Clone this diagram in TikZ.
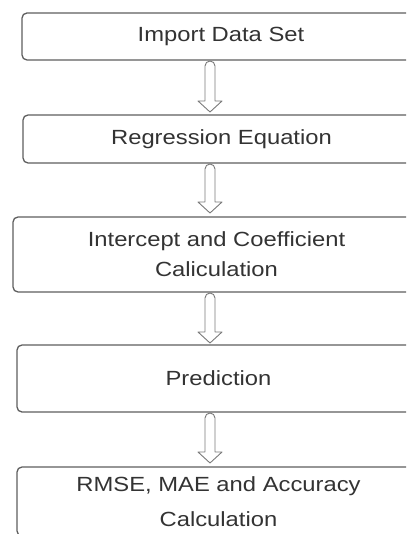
\documentclass[tikz,border=0pt]{standalone}
\usepackage{fontspec}
\setmainfont{Liberation Sans}[FakeStretch=1.16]
\usetikzlibrary{calc}
\definecolor{boxline}{HTML}{5E5E5E}
\definecolor{txt}{HTML}{333333}
\definecolor{arrline}{HTML}{7A7A7A}
\tikzset{
  stepbox/.style={draw=boxline, line width=1.3pt, rounded corners=5pt, fill=white,
    text=txt, align=center, inner sep=0pt,
    font=\fontsize{20.5}{30}\selectfont},
  harrow/.style={draw=arrline, line width=0.9pt, fill=white, line join=round},
}
\newcommand\hollowarrow[2]{%
  \draw[harrow] let \p1=(#1), \p2=(#2) in
    (\x1+5,\y2+11) -- (\x1+5,\y1-6) arc[start angle=0,end angle=180,radius=5]
    -- (\x1-5,\y2+11) -- (\x1-12,\y2+11) -- (\x1,\y2) -- (\x1+12,\y2+11) -- cycle;}
\begin{document}
\begin{tikzpicture}[x=1pt,y=1pt]
\useasboundingbox (0,0) rectangle (406,-534);
\clip (0,0) rectangle (406,-534);
\fill[white] (0,0) rectangle (406,-534);
\node[stepbox, minimum width=398pt, minimum height=47pt] (b1) at (221,-36.5) {Import Data Set};
\node[stepbox, minimum width=397pt, minimum height=48pt] (b2) at (221.5,-139) {Regression Equation};
\node[stepbox, minimum width=407pt, minimum height=75pt] (b3) at (216.5,-254.5) {Intercept and Coefficient\\Caliculation};
\node[stepbox, minimum width=403pt, minimum height=67pt] (b4) at (218.5,-378.5) {Prediction};
\node[stepbox, minimum width=403pt, minimum height=69pt, font=\fontsize{20.5}{35}\selectfont] (b5) at (218.5,-501.5) {RMSE, MAE and Accuracy\\Calculation};
\coordinate (s1) at (210,-60);  \coordinate (e1) at (210,-112);
\coordinate (s2) at (210,-163); \coordinate (e2) at (210,-213);
\coordinate (s3) at (210,-292); \coordinate (e3) at (210,-343);
\coordinate (s4) at (210,-412); \coordinate (e4) at (210,-463);
\hollowarrow{s1}{e1}
\hollowarrow{s2}{e2}
\hollowarrow{s3}{e3}
\hollowarrow{s4}{e4}
\end{tikzpicture}
\end{document}
